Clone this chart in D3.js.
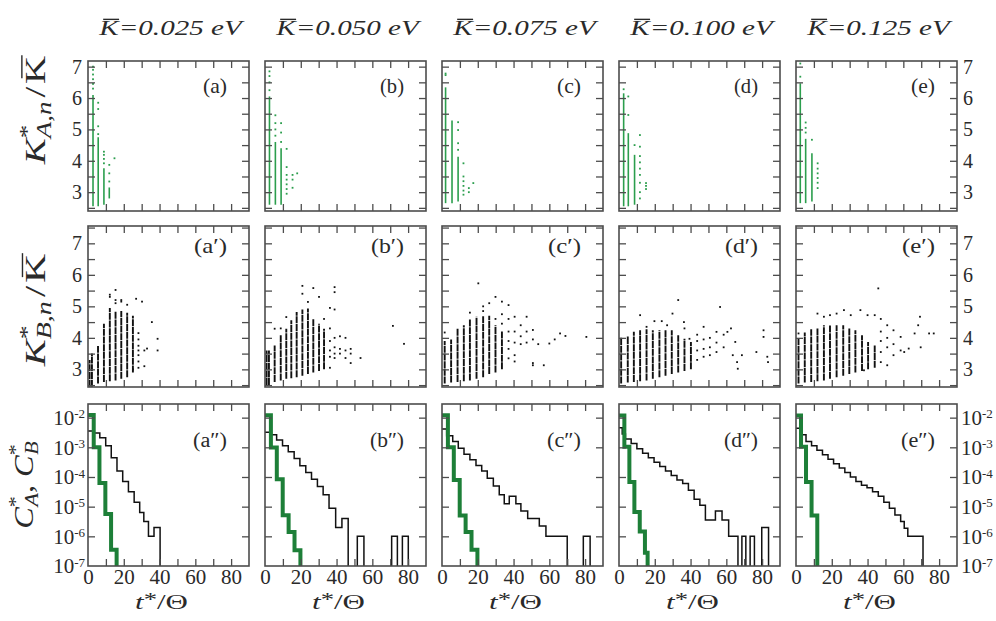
<!doctype html>
<html>
<head>
<meta charset="UTF-8" />
<title>K* and C* versus t*/Theta</title>
<script src="https://d3js.org/d3.v7.min.js"></script>
<style>
  body { margin: 0; background: #fff; }
  svg text { font-family: "Liberation Serif", "Times New Roman", serif; fill: #2a2a2a; }
</style>
</head>
<body>
<div id="chart"></div>
<script>

// column headings and tick labels
const energies = ["0.025", "0.050", "0.075", "0.100", "0.125"];
const letters = ["a", "b", "c", "d", "e"];
const kTicks = [3, 4, 5, 6, 7];
const tTicks = [0, 20, 40, 60, 80];
const cTicks = [-2, -3, -4, -5, -6, -7];

// top row, K*_A,n / K : dense columns [t, low, high] and single points [t, value]
const colsA_a = [[2.8, 2.55, 6.1], [5.7, 2.55, 4.75], [8.9, 2.6, 3.76], [11.9, 2.8, 3.15]];
const dotsA_a = [[2.8, 6.3], [2.8, 6.45], [2.8, 6.6], [2.8, 6.75], [2.8, 6.9], [2.8, 7.0], [5.7, 4.85], [5.7, 5.1],
  [5.7, 5.65], [5.7, 5.85], [8.9, 3.92], [8.9, 4.06], [8.9, 4.19], [8.9, 4.29], [11.9, 3.34], [11.9, 3.6], [11.9, 3.87], [14.8, 4.08]];
const colsA_b = [[2.5, 2.6, 6.05], [5.8, 2.6, 4.6], [9.0, 2.6, 4.4]];
const dotsA_b = [[2.5, 6.25], [2.5, 6.5], [2.5, 6.7], [2.5, 6.85], [5.8, 4.8], [5.8, 5.0], [5.8, 5.2], [5.8, 5.45], [9, 4.6],
  [9, 4.9], [9, 5.2], [12.1, 2.95], [12.1, 3.1], [12.1, 3.25], [12.1, 3.4], [12.1, 3.55], [12.1, 3.8], [12.1, 4.38],
  [15.4, 3.14], [15.4, 3.4], [15.4, 3.55], [18, 3.6]];
const colsA_c = [[2, 2.65, 6.34], [5.6, 2.65, 5.28], [9, 2.7, 4.13]];
const dotsA_c = [[2, 6.73], [2, 6.78], [9, 4.35], [9, 4.56], [9, 4.98], [9, 5.23], [12, 2.92], [12, 3.05], [12, 3.2],
  [12, 3.35], [12, 3.5], [12, 3.92], [15, 3.0], [15, 3.13], [17.5, 3.29]];
const colsA_d = [[2.6, 2.55, 6.15], [5.2, 2.55, 4.88], [8.7, 2.6, 4.19]];
const dotsA_d = [[2.6, 6.28], [5.2, 5.46], [5.2, 6.05], [8.7, 4.5], [11.7, 2.8], [11.7, 3.0], [11.7, 3.3], [11.7, 3.55],
  [11.7, 3.75], [11.7, 3.95], [11.7, 4.15], [11.7, 4.45], [11.7, 4.82], [15.1, 3.1], [15.1, 3.2], [15.1, 3.29]];
const colsA_e = [[2.4, 2.65, 6.47], [5.4, 2.65, 4.7], [8.9, 2.7, 4.24]];
const dotsA_e = [[2.4, 6.68], [2.4, 7.1], [5.4, 4.9], [5.4, 5.05], [5.4, 5.22], [8.9, 4.67], [12.1, 3.13], [12.1, 3.3],
  [12.1, 3.45], [12.1, 3.6], [12.1, 3.75], [12.1, 3.92]];

// middle row, K*_B,n / K
const colsB_a = [[0.9, 2.45, 3.3], [2.2, 2.45, 3.5], [5.6, 2.55, 3.74], [8.9, 2.6, 4.45], [12.2, 2.62, 4.95],
  [15.4, 2.65, 4.85], [18.6, 2.7, 4.85], [21.9, 2.75, 4.8], [25.1, 2.9, 4.7]];
const dotsB_a = [[12.2, 5.3], [12.2, 5.37], [15.4, 5.1], [15.4, 5.2], [15.4, 5.52], [18.6, 5.15], [18.6, 5.2], [21.9, 5.05],
  [25.1, 3.0], [26.9, 5.24], [30.2, 5.15], [28.2, 3.05], [28.2, 3.25], [28.2, 3.45], [28.2, 3.6], [28.2, 3.75], [28.2, 3.95],
  [28.2, 4.15], [31.5, 3.1], [31.5, 3.6], [33, 3.66], [35.7, 4.5], [38.9, 3.97], [38.9, 3.6]];
const colsB_b = [[0.9, 2.5, 3.6], [2.2, 2.5, 3.6], [5.4, 2.6, 3.76], [8.8, 2.65, 4.08], [11.9, 2.7, 4.29], [14.7, 2.72, 4.56],
  [17.7, 2.75, 4.82], [20.9, 2.8, 4.9], [24, 2.85, 4.93], [27, 2.9, 4.6], [30.2, 2.95, 4.45], [33, 3.0, 4.29]];
const dotsB_b = [[5.4, 4.29], [8.8, 4.3], [11.9, 4.66], [20.9, 5.4], [20.9, 5.65], [24, 5.14], [27, 5.58], [30.2, 5.3],
  [33, 4.6], [36.3, 4.95], [36.3, 4.3], [36.3, 3.9], [36.3, 3.6], [36.3, 3.4], [36.3, 3.05], [38.9, 5.61], [38.9, 5.45],
  [38.9, 4.9], [38.9, 4.0], [38.9, 3.7], [38.9, 3.5], [38.9, 3.36], [41.9, 4.05], [41.9, 3.65], [41.9, 3.5], [45, 4.0],
  [45, 3.6], [45, 3.36], [47.9, 3.65], [47.9, 3.5], [47.9, 3.2], [53.4, 3.36], [71.5, 4.38], [77.7, 3.81]];
const colsB_c = [[1.5, 2.55, 3.9], [5.1, 2.58, 3.95], [8.7, 2.6, 4.3], [12.2, 2.62, 4.4], [15.6, 2.65, 4.6],
  [19.3, 2.7, 4.67], [23, 2.75, 4.7], [26.4, 2.85, 4.7], [29.9, 2.9, 4.4], [33.5, 3.0, 4.2]];
const dotsB_c = [[1.5, 4.17], [15.6, 4.8], [20.3, 5.73], [23, 4.85], [23, 5.0], [26.4, 5.1], [29.9, 4.6], [29.9, 5.3],
  [33.5, 5.15], [33.5, 4.75], [33.5, 4.45], [37.2, 5.04], [37.2, 4.6], [37.2, 4.2], [37.2, 3.9], [37.2, 3.65], [37.2, 3.35],
  [40.6, 4.67], [40.6, 4.2], [40.6, 3.85], [40.6, 3.45], [40.6, 3.25], [44, 4.4], [44, 4.05], [44, 3.8], [47.3, 4.67],
  [47.3, 4.2], [47.3, 3.85], [50.8, 4.25], [50.8, 3.95], [50.8, 3.2], [50.8, 3.13], [53.8, 3.8], [56.9, 3.13], [60, 3.82],
  [63, 3.95], [66, 4.14], [69, 4.06], [80.7, 4.03]];
const colsB_d = [[1.2, 2.55, 4.03], [4.9, 2.58, 4.06], [8.3, 2.6, 4.19], [11.8, 2.62, 4.24], [15.4, 2.65, 4.27],
  [18.9, 2.7, 4.24], [22.6, 2.75, 4.24], [26, 2.8, 4.24], [29.5, 2.85, 4.24], [33.1, 2.9, 4.08], [36.6, 2.95, 3.97],
  [40.2, 3.0, 3.87]];
const dotsB_d = [[11.8, 4.72], [15.4, 4.35], [19.8, 4.53], [23.9, 4.53], [26.9, 4.4], [29.9, 4.77], [33.1, 5.2], [36.3, 4.5],
  [36.6, 4.3], [39.4, 3.97], [43.7, 3.3], [43.7, 3.6], [43.7, 3.9], [43.7, 4.1], [47.3, 4.35], [47.3, 3.95], [47.3, 3.65],
  [47.3, 3.4], [50.8, 4.0], [50.8, 3.7], [50.8, 3.45], [54.5, 4.19], [54.5, 3.85], [54.5, 3.55], [56.5, 4.98], [58.5, 4.1],
  [58.5, 3.7], [60.6, 4.19], [62.6, 4.3], [63.6, 3.45], [65, 3.87], [66, 3.23], [66.4, 3.02], [68.7, 3.45], [76.8, 3.55],
  [80.8, 4.24], [80.8, 4.03], [82.9, 3.4], [83.3, 3.23]];
const colsB_e = [[1.4, 2.55, 3.98], [4.9, 2.58, 4.17], [8.5, 2.6, 4.27], [12, 2.62, 4.3], [15.6, 2.65, 4.4],
  [19, 2.7, 4.4], [22.7, 2.75, 4.4], [26.4, 2.8, 4.4], [29.8, 2.85, 4.3], [33.2, 2.9, 4.24], [36.9, 2.95, 4.08],
  [40.3, 3.0, 3.87], [44, 3.05, 3.76]];
const dotsB_e = [[1.4, 4.14], [12, 4.77], [15.6, 4.67], [19, 4.72], [22.7, 4.77], [26.8, 4.88], [30.6, 4.72], [36, 4.88],
  [40, 4.72], [44, 4.72], [46, 5.57], [47.4, 4.6], [47.4, 4.2], [47.4, 3.9], [47.4, 3.55], [47.4, 3.23], [51, 4.4], [51, 4.0],
  [51, 3.7], [51, 3.13], [54.5, 4.24], [54.5, 3.8], [54.5, 3.45], [58.5, 4.03], [58.5, 3.6], [60.5, 3.55], [63, 3.66],
  [66.3, 4.14], [68.3, 4.4], [69.3, 4.67], [69.7, 3.7], [74.4, 4.14], [77, 4.14], [38, 2.97]];

// bottom row, log10 of C*_A (green) and C*_B (black) as steps [t from, log10 C]; null = empty
const stepA_a = [[0, -1.91], [3.2, -3.0], [6.4, -4.2], [9.7, -5.25], [12.9, -6.45], [16, null]];
const stepA_b = [[0, -1.92], [3.3, -3.01], [6.6, -4.08], [9.9, -5.29], [13.2, -5.85], [16.5, -6.47], [19.8, null]];
const stepA_c = [[0, -1.92], [3.3, -3.0], [6.6, -4.1], [9.9, -5.3], [13.2, -5.85], [16.5, -6.45], [19.8, null]];
const stepA_d = [[0, -1.93], [3, -2.98], [5.8, -4.17], [8.6, -5.18], [11.6, -5.84], [14.5, -6.55], [16, null]];
const stepA_e = [[0, -1.93], [2.8, -2.98], [5.6, -4.17], [8.7, -5.3], [11.9, null]];

const stepB_a = [[0, -2.45], [3.3, -2.52], [6.6, -2.68], [9.9, -2.95], [13, -3.35], [16.2, -3.8], [19.4, -4.15],
  [22.6, -4.5], [25.8, -4.85], [28.9, -5.2], [31.2, -5.5], [33.8, -6.0], [36.9, -5.7], [40.3, null]];
const stepB_b = [[0, -2.49], [3.3, -2.58], [6.5, -2.75], [9.8, -2.95], [13, -3.15], [16.3, -3.38], [19.5, -3.62],
  [22.8, -3.85], [26, -4.08], [29.3, -4.32], [32.5, -4.6], [35.8, -5.05], [39.5, -5.7], [43, -5.4], [46.5, null],
  [51.6, -6], [55.3, null], [70.8, -6], [74, null], [76.8, -6], [80.1, null]];
const stepB_c = [[0, -2.38], [2.6, -2.61], [6, -2.8], [9.1, -3.03], [12.3, -3.23], [15.6, -3.42], [19, -3.61],
  [22.2, -3.8], [25.3, -4.04], [28.7, -4.3], [32, -4.6], [34.8, -4.9], [37.6, -4.65], [41.3, -4.9], [44.1, -5.15],
  [47.9, -5.4], [54.4, -5.65], [58.1, -6.0], [70, null], [79, -6], [82.8, null]];
const stepB_d = [[0, -2.34], [1.8, -2.55], [3.6, -2.72], [6.8, -2.87], [10, -3.05], [13.2, -3.2], [16.4, -3.35],
  [19.6, -3.5], [22.8, -3.65], [26, -3.8], [29.2, -3.95], [32.4, -4.1], [35.6, -4.22], [38.8, -4.45], [42, -4.75],
  [45.2, -4.95], [48.3, -5.45], [53.9, -5.15], [57.6, -5.45], [61.3, -6.0], [66.5, null], [68.7, -6], [70.9, null],
  [73.3, -6], [75.7, null], [79.8, -5.7], [83.6, null]];
const stepB_e = [[0, -2.36], [2.8, -2.58], [5.6, -2.8], [8.7, -2.95], [11.7, -3.1], [14.8, -3.25], [17.9, -3.4],
  [21, -3.55], [24.2, -3.7], [27.3, -3.85], [30.4, -4.0], [33.5, -4.15], [36.6, -4.28], [39.7, -4.36], [42.8, -4.5],
  [46, -4.65], [49.1, -4.85], [52.2, -5.05], [55.3, -5.28], [58.5, -5.5], [60.5, -5.73], [62.5, -6.0], [71, null]];

const colsA = [colsA_a, colsA_b, colsA_c, colsA_d, colsA_e];
const dotsA = [dotsA_a, dotsA_b, dotsA_c, dotsA_d, dotsA_e];
const colsB = [colsB_a, colsB_b, colsB_c, colsB_d, colsB_e];
const dotsB = [dotsB_a, dotsB_b, dotsB_c, dotsB_d, dotsB_e];
const stepA = [stepA_a, stepA_b, stepA_c, stepA_d, stepA_e];
const stepB = [stepB_a, stepB_b, stepB_c, stepB_d, stepB_e];

// layout
const width = 996, height = 621;
const panelX = [88, 265, 442, 619, 796];
const panelW = 161;
const rowTop = [61, 226, 404];
const rowBot = [211, 387, 566];
const frameColor = "#4d4d4d";
const greenDot = "#2b9e4d", greenLine = "#1d7f38", black = "#111";

const svg = d3.select("#chart").append("svg")
    .attr("width", width)
    .attr("height", height);
const defs = svg.append("defs");

const xScale = i => d3.scaleLinear().domain([0, 90]).range([panelX[i], panelX[i] + panelW]);
const yK1 = d3.scaleLinear().domain([2.4, 7.18]).range([rowBot[0], rowTop[0]]);
const yK2 = d3.scaleLinear().domain([2.44, 7.55]).range([rowBot[1], rowTop[1]]);
const yC = d3.scaleLog().domain([1e-7, Math.pow(10, -1.54)]).range([rowBot[2], rowTop[2]]);
const yRows = [yK1, yK2, yC];

// clip paths, one per panel
for (let r = 0; r < 3; r++) {
  for (let i = 0; i < 5; i++) {
    defs.append("clipPath").attr("id", `clip-${r}-${i}`)
      .append("rect")
        .attr("x", panelX[i]).attr("y", rowTop[r])
        .attr("width", panelW).attr("height", rowBot[r] - rowTop[r]);
  }
}

// scatter rows
function drawScatter(r, i, cols, dots, color, dash, lw) {
  const x = xScale(i), y = yRows[r];
  const g = svg.append("g").attr("clip-path", `url(#clip-${r}-${i})`);
  g.selectAll("line")
    .data(cols)
    .join("line")
      .attr("x1", d => x(d[0])).attr("x2", d => x(d[0]))
      .attr("y1", d => y(d[1])).attr("y2", d => y(d[2]))
      .attr("stroke", color)
      .attr("stroke-width", lw)
      .attr("stroke-dasharray", dash);
  g.selectAll("rect")
    .data(dots)
    .join("rect")
      .attr("x", d => x(d[0]) - 0.9)
      .attr("y", d => y(d[1]) - 0.9)
      .attr("width", 1.8).attr("height", 1.8)
      .attr("fill", color);
}

function stepPath(steps, x, y) {
  const base = y.range()[0] + 3;
  let d = "";
  steps.forEach((s, k) => {
    const yy = s[1] == null ? base : y(Math.pow(10, s[1]));
    d += k === 0 ? `M${x(s[0])},${yy}` : `H${x(s[0])}V${yy}`;
  });
  return d;
}

for (let i = 0; i < 5; i++) {
  drawScatter(0, i, colsA[i], dotsA[i], greenDot, null, 1.6);
  drawScatter(1, i, colsB[i], dotsB[i], black, "7 0.7", 1.9);

  const x = xScale(i);
  const g = svg.append("g").attr("clip-path", `url(#clip-2-${i})`).attr("fill", "none");
  g.append("path").attr("d", stepPath(stepB[i], x, yC))
    .attr("stroke", black).attr("stroke-width", 1.5);
  g.append("path").attr("d", stepPath(stepA[i], x, yC))
    .attr("stroke", greenLine).attr("stroke-width", 4);
}

// frames and inward ticks
for (let r = 0; r < 3; r++) {
  const y = yRows[r];
  const yt = r === 2
    ? cTicks.filter(e => e > -7).map(e => Math.pow(10, e))
    : d3.range(2.5, 7.51, 0.5).filter(v => v > y.domain()[0] && v < y.domain()[1]);
  for (let i = 0; i < 5; i++) {
    const x = xScale(i);
    const xt = d3.range(10, 90, 10);
    const g = svg.append("g");
    g.append("g").attr("transform", `translate(0,${rowBot[r]})`)
      .call(d3.axisBottom(x).tickValues(xt).tickSize(-7).tickFormat(""));
    g.append("g").attr("transform", `translate(0,${rowTop[r]})`)
      .call(d3.axisTop(x).tickValues(xt).tickSize(-7).tickFormat(""));
    g.append("g").attr("transform", `translate(${panelX[i]},0)`)
      .call(d3.axisLeft(y).tickValues(yt).tickSize(-7).tickFormat(""));
    g.append("g").attr("transform", `translate(${panelX[i] + panelW},0)`)
      .call(d3.axisRight(y).tickValues(yt).tickSize(-7).tickFormat(""));
    g.selectAll(".domain").remove();
    g.selectAll("line").attr("stroke", frameColor).attr("stroke-width", 1.3);
    g.append("rect")
      .attr("x", panelX[i]).attr("y", rowTop[r])
      .attr("width", panelW).attr("height", rowBot[r] - rowTop[r])
      .attr("fill", "none").attr("stroke", frameColor).attr("stroke-width", 1.6);
  }
}

// tick labels
function styleAxis(g, size) {
  g.attr("font-family", null).attr("font-size", size).attr("color", "#2a2a2a");
  g.select(".domain").remove();
}
[yK1, yK2].forEach(y => {
  svg.append("g").attr("transform", `translate(${panelX[0]},0)`)
    .call(d3.axisLeft(y).tickValues(kTicks).tickSize(0).tickPadding(6).tickFormat(d3.format("d")))
    .call(g => styleAxis(g, 20));
  svg.append("g").attr("transform", `translate(${panelX[4] + panelW},0)`)
    .call(d3.axisRight(y).tickValues(kTicks).tickSize(0).tickPadding(6).tickFormat(d3.format("d")))
    .call(g => styleAxis(g, 20));
});

function powLabels(sel) {
  sel.selectAll(".tick text").each(function(d) {
    const t = d3.select(this);
    t.append("tspan").text("10");
    t.append("tspan").attr("dy", "-0.5em").attr("font-size", 13).text(Math.round(Math.log10(d)));
  });
}
const cVals = cTicks.map(e => Math.pow(10, e));
svg.append("g").attr("transform", `translate(${panelX[0]},0)`)
  .call(d3.axisLeft(yC).tickValues(cVals).tickSize(0).tickPadding(3).tickFormat(""))
  .call(g => styleAxis(g, 21)).call(powLabels);
svg.append("g").attr("transform", `translate(${panelX[4] + panelW},0)`)
  .call(d3.axisRight(yC).tickValues(cVals).tickSize(0).tickPadding(4).tickFormat(""))
  .call(g => styleAxis(g, 21)).call(powLabels);

for (let i = 0; i < 5; i++) {
  svg.append("g").attr("transform", `translate(0,${rowBot[2]})`)
    .call(d3.axisBottom(xScale(i)).tickValues(tTicks).tickSize(0).tickPadding(3))
    .call(g => styleAxis(g, 21));
}

// stretched text labels
function makeLabel(x, y, rotate, anchor, size) {
  const g = svg.append("g");
  const t = g.append("text").attr("text-anchor", anchor).attr("font-size", size);
  return {
    g, t,
    fit(target) {
      const w = t.node().getBBox().width;
      g.attr("transform", `translate(${x},${y})` + (rotate ? ` rotate(${rotate})` : "") + ` scale(${target / w},1)`);
    },
    overline(k, lift) {
      const e = t.node().getExtentOfChar(k);
      g.append("line")
        .attr("x1", e.x + e.width * 0.2).attr("x2", e.x + e.width * 1.02)
        .attr("y1", e.y + lift).attr("y2", e.y + lift)
        .attr("stroke", "#2a2a2a").attr("stroke-width", 1.4);
    }
  };
}

for (let i = 0; i < 5; i++) {
  const title = makeLabel(panelX[i] + panelW / 2 + 2, 35, 0, "middle", 20);
  title.t.attr("font-style", "italic");
  title.t.append("tspan").text("K");
  title.t.append("tspan").text(`=${energies[i]} eV`);
  title.fit(148);
  title.overline(0, 2);

  ["", "\u2032", "\u2033"].forEach((tag, r) => {
    const lab = makeLabel(panelX[i] + panelW - 22, [93, 253, 447][r], 0, "end", 20);
    lab.t.text(`(${letters[i]}${tag})`);
    lab.fit([24, 33, 34][r]);
  });

  const xl = makeLabel(panelX[i] + panelW / 2 - 7, 609, 0, "middle", 22);
  xl.t.append("tspan").attr("font-style", "italic").text("t");
  xl.t.append("tspan").attr("font-size", 19).attr("dy", -3).text("*");
  xl.t.append("tspan").attr("dy", 3).text("/");
  xl.t.append("tspan").text("\u0398");
  xl.fit(53);
}

function kLabel(sub, cy, target) {
  const lab = makeLabel(45, cy, -90, "middle", 29);
  lab.t.append("tspan").attr("font-style", "italic").text("K");
  lab.t.append("tspan").attr("font-size", 20).attr("dy", -11).text("*");
  lab.t.append("tspan").attr("font-size", 20).attr("font-style", "italic").attr("dx", -10).attr("dy", 17).text(sub);
  lab.t.append("tspan").attr("dx", 3).attr("dy", -6).text("/");
  lab.t.append("tspan").attr("dx", 2).text("K");
  lab.fit(target);
  lab.overline(6, 3);
}
kLabel("A,n", 110, 110);
kLabel("B,n", 310, 114);

const cl = makeLabel(33, 485, -90, "middle", 28);
cl.t.append("tspan").attr("font-style", "italic").text("C");
cl.t.append("tspan").attr("font-size", 19).attr("dy", -11).text("*");
cl.t.append("tspan").attr("font-size", 19).attr("font-style", "italic").attr("dx", -9).attr("dy", 16).text("A");
cl.t.append("tspan").attr("dy", -5).text(", ");
cl.t.append("tspan").attr("font-style", "italic").text("C");
cl.t.append("tspan").attr("font-size", 19).attr("dy", -11).text("*");
cl.t.append("tspan").attr("font-size", 19).attr("font-style", "italic").attr("dx", -9).attr("dy", 16).text("B");
cl.fit(88);

</script>
</body>
</html>
